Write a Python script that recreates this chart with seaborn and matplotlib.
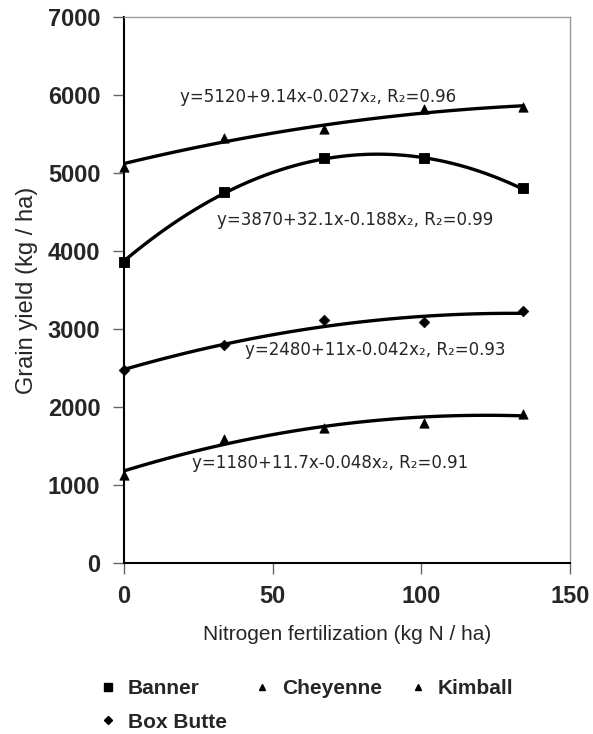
import numpy as np
import pandas as pd
import matplotlib
matplotlib.use("Agg")
import matplotlib.pyplot as plt
from matplotlib.lines import Line2D
import seaborn as sns

# nitrogen rates (kg N / ha)
nitrogen = [0, 33.6, 67.2, 100.8, 134.4]

# grain yield (kg / ha) per location
banner = [3860, 4760, 5190, 5190, 4810]
cheyenne = [5080, 5450, 5560, 5820, 5840]
box_butte = [2480, 2790, 3120, 3090, 3230]
kimball = [1130, 1590, 1730, 1790, 1910]

# quadratic fit coefficients (a, b, c) from the equations on the chart
fit_cheyenne = (5120, 9.14, -0.027)
fit_banner = (3870, 32.1, -0.188)
fit_box_butte = (2480, 11, -0.042)
fit_kimball = (1180, 11.7, -0.048)

labels = [
    "y=5120+9.14x-0.027x\u2082, R\u2082=0.96",
    "y=3870+32.1x-0.188x\u2082, R\u2082=0.99",
    "y=2480+11x-0.042x\u2082, R\u2082=0.93",
    "y=1180+11.7x-0.048x\u2082, R\u2082=0.91",
]
label_pos = [(18.8, 5970), (31.3, 4400), (40.7, 2730), (22.9, 1280)]

sns.set_style("ticks")
plt.rcParams['font.family'] = ['Liberation Sans', 'DejaVu Sans']

fig = plt.figure(figsize=(5.93, 7.34), dpi=100)
ax = fig.add_axes([0.209, 0.233, 0.752, 0.744])

series = [
    (cheyenne, fit_cheyenne, "^", 45),
    (banner, fit_banner, "s", 60),
    (box_butte, fit_box_butte, "D", 30),
    (kimball, fit_kimball, "^", 45),
]
xs = np.linspace(0, nitrogen[-1], 100)
for vals, (a, b, c), mk, size in series:
    curve = pd.DataFrame({"x": xs, "y": a + b * xs + c * xs ** 2})
    sns.lineplot(data=curve, x="x", y="y", ax=ax, color="black", lw=2.4)
    pts = pd.DataFrame({"x": nitrogen, "y": vals})
    sns.scatterplot(data=pts, x="x", y="y", ax=ax, marker=mk, color="black",
                    s=size, edgecolor="black", zorder=3, clip_on=False)

for txt, (x, y) in zip(labels, label_pos):
    ax.text(x, y, txt, fontsize=12, va="center", ha="left",
            family=["DejaVu Sans"])

ax.set_xlim(0, 150)
ax.set_ylim(0, 7000)
ax.set_xticks([0, 50, 100, 150])
ax.set_yticks(range(0, 7001, 1000))
ax.tick_params(axis="both", labelsize=17, length=8, width=1, color="#666666")
ax.tick_params(axis="y", pad=9)
ax.tick_params(axis="x", pad=8)
for lab in ax.get_xticklabels() + ax.get_yticklabels():
    lab.set_fontweight("bold")
ax.set_xlabel("Nitrogen fertilization (kg N / ha)", fontsize=15, labelpad=12)
ax.set_ylabel("Grain yield (kg / ha)", fontsize=17, labelpad=7)

for side in ["left", "bottom"]:
    ax.spines[side].set_color("black")
    ax.spines[side].set_linewidth(1.5)
for side in ["top", "right"]:
    ax.spines[side].set_color("#999999")
    ax.spines[side].set_linewidth(1)

handles = [
    Line2D([], [], ls="none", marker="s", color="black", ms=6, label="Banner"),
    Line2D([], [], ls="none", marker="D", color="black", ms=4.5, label="Box Butte"),
    Line2D([], [], ls="none", marker="^", color="black", ms=5, label="Cheyenne"),
    Line2D([], [], ls="none", marker="^", color="black", ms=5, label="Kimball"),
]
fig.legend(handles=handles, ncol=3, loc="upper left", bbox_to_anchor=(0.165, 0.075),
           frameon=False, prop={"weight": "bold", "size": 15}, handlelength=1,
           handletextpad=0.45, columnspacing=1.2, labelspacing=0.7,
           borderpad=0, borderaxespad=0)

fig.savefig("out.png", dpi=100)
